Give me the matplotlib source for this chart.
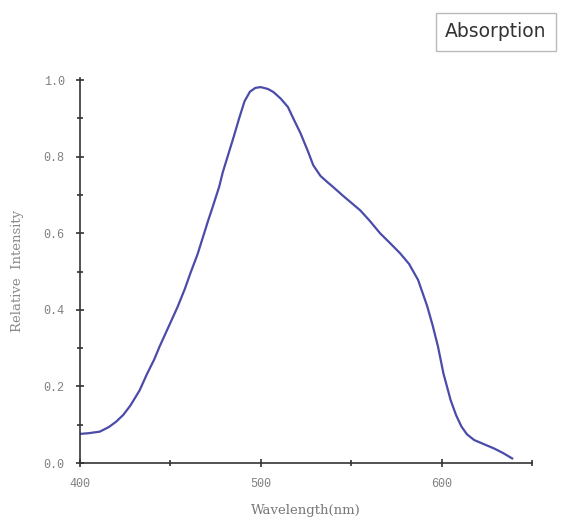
import numpy as np
import matplotlib.pyplot as plt
from matplotlib.ticker import MultipleLocator

# absorption spectrum
wavelength = [400, 405, 411, 416, 420, 424, 428, 433, 437, 441, 444, 449, 454, 458, 461,
              465, 468, 471, 474, 477, 479, 482, 485, 488, 491, 494, 497, 500, 504, 507,
              511, 515, 518, 522, 526, 529, 533, 537, 540, 545, 550, 555, 560, 566, 572,
              577, 582, 587, 592, 595, 598, 601, 605, 608, 611, 614, 618, 623, 629, 634, 639]
intensity = [0.076, 0.078, 0.082, 0.094, 0.108, 0.126, 0.151, 0.19, 0.232, 0.27, 0.304,
             0.356, 0.408, 0.455, 0.495, 0.545, 0.59, 0.635, 0.678, 0.722, 0.760, 0.806,
             0.852, 0.90, 0.945, 0.970, 0.980, 0.982, 0.977, 0.969, 0.952, 0.93, 0.90,
             0.861, 0.815, 0.778, 0.750, 0.733, 0.721, 0.70, 0.68, 0.66, 0.634, 0.60, 0.572,
             0.548, 0.52, 0.478, 0.410, 0.36, 0.304, 0.234, 0.164, 0.125, 0.095, 0.075,
             0.06, 0.05, 0.038, 0.026, 0.012]

fig = plt.figure(figsize=(5.66, 5.22), dpi=100)
ax = fig.add_axes([0.1413, 0.113, 0.7987, 0.737])

ax.plot(wavelength, intensity, color='#4b4baa', lw=1.6)

ax.set_xlim(400, 650)
ax.set_ylim(0, 1.005)
ax.xaxis.set_major_locator(MultipleLocator(100))
ax.xaxis.set_minor_locator(MultipleLocator(50))
ax.yaxis.set_major_locator(MultipleLocator(0.2))
ax.yaxis.set_minor_locator(MultipleLocator(0.1))
ax.yaxis.set_major_formatter(lambda v, p: f'{v:.1f}')

for s in ['top', 'right']:
    ax.spines[s].set_visible(False)
for s in ['left', 'bottom']:
    ax.spines[s].set_color('#333333')
    ax.spines[s].set_linewidth(1.2)

ax.tick_params(which='both', direction='inout', color='#333333', labelcolor='#808080',
               labelsize=8.5, width=1.2)
ax.tick_params(which='major', length=6, pad=8)
ax.tick_params(which='minor', length=4)
for lab in ax.get_xticklabels() + ax.get_yticklabels():
    lab.set_family('Liberation Mono')

ax.set_xlabel('Wavelength(nm)', family='DejaVu Serif', color='#777777', fontsize=9.5,
              labelpad=10)
ax.set_ylabel('Relative  Intensity', family='DejaVu Serif', color='#8a8a8a', fontsize=9.5,
              labelpad=14)

fig.text(0.876, 0.939, 'Absorption', ha='center', va='center', fontsize=13.5, color='#333333',
         bbox=dict(boxstyle='square,pad=0.5', fc='white', ec='#bbbbbb', lw=1))

fig.savefig('out.png', dpi=100)
